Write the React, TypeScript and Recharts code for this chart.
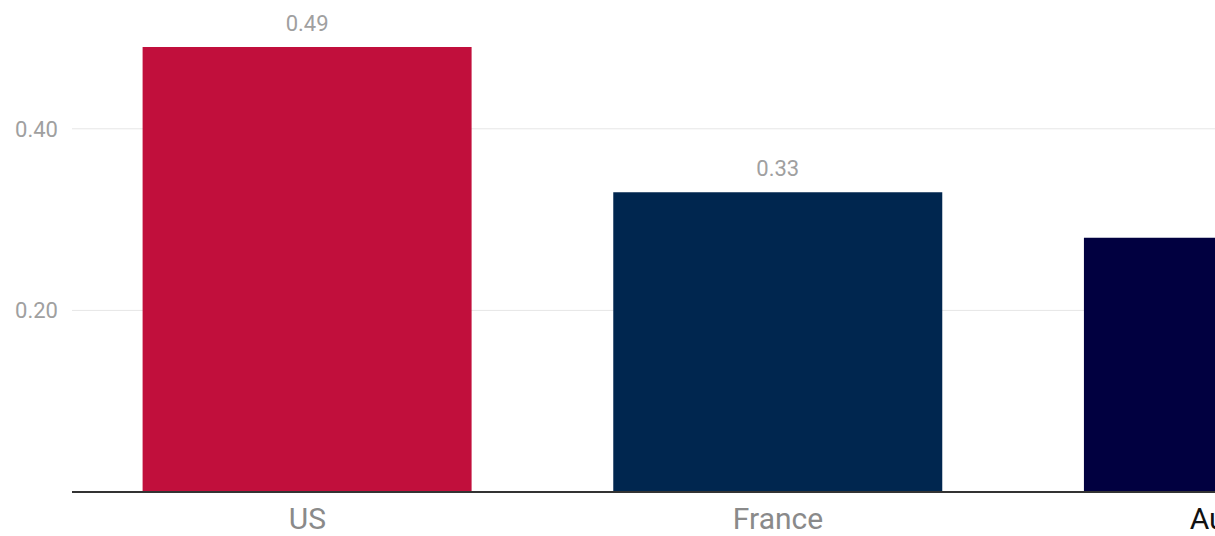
import { BarChart, Bar, XAxis, YAxis, CartesianGrid, Cell, LabelList } from 'recharts';

const countries = ['US', 'France', 'Australia'];
const values = [0.49, 0.33, 0.28];
const yTicks = [0.2, 0.4];

const barColors = ['#c10f3c', '#00264f', '#010040'];
const tickColors = ['#8a8a8a', '#8a8a8a', '#111111'];

const data = countries.map((country, i) => ({ country, value: values[i] }));

const CountryTick = (props: any) => {
  const { x, y, payload, index } = props;
  return (
    <text
      x={x}
      y={y + 35}
      textAnchor="middle"
      fill={tickColors[index] ?? '#8a8a8a'}
      fontSize={30}
      fontFamily="Roboto"
    >
      {payload.value}
    </text>
  );
};

export default function App() {
  return (
    <div style={{ position: 'fixed', top: 0, left: 0, width: 1215, height: 536, overflow: 'hidden', background: '#fff' }}>
      <BarChart
        width={1484}
        height={536}
        data={data}
        margin={{ top: 38, right: 0, left: 0, bottom: 0 }}
        barCategoryGap="15%"
      >
        <CartesianGrid vertical={false} horizontal stroke="#e6e6e6" horizontalValues={yTicks} />
        <XAxis
          dataKey="country"
          height={44}
          tickLine={false}
          tickSize={0}
          axisLine={{ stroke: '#333333', strokeWidth: 2 }}
          tick={<CountryTick />}
          interval={0}
        />
        <YAxis
          width={72}
          domain={[0, 0.5]}
          ticks={yTicks}
          axisLine={false}
          tickLine={false}
          tickMargin={8}
          tickFormatter={(v: number) => v.toFixed(2)}
          tick={{ fill: '#a0a0a0', fontSize: 22, fontFamily: 'Roboto' }}
        />
        <Bar dataKey="value" isAnimationActive={false}>
          {data.map((d, i) => (
            <Cell key={d.country} fill={barColors[i]} />
          ))}
          <LabelList
            dataKey="value"
            position="top"
            offset={16}
            formatter={(v: any) => Number(v).toFixed(2)}
            style={{ fill: '#a0a0a0', fontSize: 22, fontFamily: 'Roboto' }}
          />
        </Bar>
      </BarChart>
    </div>
  );
}
